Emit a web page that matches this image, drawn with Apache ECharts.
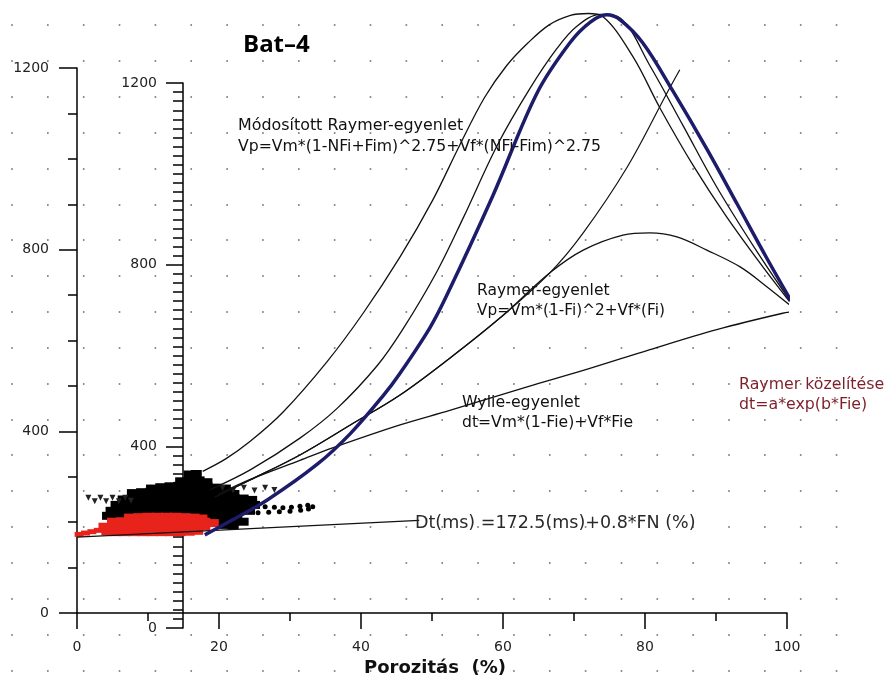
<!DOCTYPE html>
<html><head><meta charset="utf-8">
<script src="https://cdn.jsdelivr.net/npm/echarts@6/dist/echarts.min.js"></script>
<style>html,body{margin:0;padding:0;background:#fff}#c{width:884px;height:682px}</style>
</head><body><div id="c"></div>
<script>
// ---- data (x = porosity %, y = value on the outer axis) ----
const modRaymerA = [[17.7,312],[21.0,340],[24.4,378],[29.0,442],[35.2,553],[40.3,660],[45.5,784],[50.1,909],[53.9,1030],[57.4,1135],[60.5,1205],[63.5,1255],[66.5,1295],[69.5,1316],[72.0,1320],[74.0,1314],[78.3,1225],[82.1,1112],[86.8,985],[91.5,872],[96.6,762],[101.4,665]];
const modRaymerB = [[18.7,271],[24.4,315],[31.4,385],[36.6,450],[42.3,545],[45.9,625],[50.7,752],[54.4,870],[59.2,1030],[63.8,1155],[67.6,1243],[70.4,1292],[73.7,1318],[76.5,1310],[80.7,1205],[85.4,1072],[90.1,938],[95.8,795],[101.4,665]];
const modRaymerBlue = [[18.0,172],[21.1,198],[26.8,249],[33.8,327],[38.5,395],[43.1,478],[45.5,528],[49.7,628],[52.1,700],[58.6,920],[64.8,1145],[69.4,1255],[72.3,1301],[74.6,1317],[76.5,1306],[79.7,1255],[83.9,1150],[88.7,1022],[93.0,900],[97.2,780],[101.4,665]];
const raymerHump = [[19.4,255],[24.4,293],[31.4,348],[38.5,414],[45.5,480],[52.5,561],[59.6,650],[66.6,749],[71.3,799],[76.9,832],[80.7,837],[84.5,828],[88.7,799],[93.4,762],[97.2,718],[101.4,665]];
const raymerExp = [[19.4,255],[24.4,293],[31.4,348],[38.5,414],[45.5,480],[52.5,561],[59.6,650],[66.6,749],[71.3,837],[77.5,982],[83.1,1145],[84.9,1196]];
const wylie = [[20,262],[24.4,294],[31.4,336],[36.1,364],[45.5,414],[52.5,446],[63.4,498],[71.3,534],[80.7,580],[90.1,624],[99.4,660],[101.4,665]];
const dtLine = [[0,167],[48.2,204]];
const triangles = [[1.6,254],[2.5,246],[3.3,254],[4.1,246],[5.0,254],[5.9,246],[6.8,254],[7.6,247],[20.5,275],[22,270],[23.5,276],[25,270],[26.5,276],[27.8,271]];
const blackCluster = [
 [15.8,305],[16.8,306],
 [14.6,290],[15.9,293],[17.2,292],[18.3,288],
 [10.5,274],[11.8,277],[13.1,279],[14.4,280],[15.7,281],[17,281],[18.3,279],[19.6,276],[20.9,274],
 [7.8,264],[9.1,266],[10.4,267],[11.7,267],[13,267],[14.3,267],[15.6,267],[16.9,267],[18.2,267],[19.5,267],[20.8,265],[22.1,262],
 [6.5,250],[7.8,253],[9.1,253],[10.4,253],[11.7,253],[13,253],[14.3,253],[15.6,253],[16.9,253],[18.2,253],[19.5,253],[20.8,253],[22.1,253],[23.4,252],[24.6,249],
 [5.5,238],[6.8,240],[8.1,240],[9.4,240],[10.7,240],[12,240],[13.3,240],[14.6,240],[15.9,240],[17.2,240],[18.5,240],[19.8,240],[21.1,240],[22.4,240],[23.7,240],[25,238],
 [4.8,225],[6.1,227],[7.4,227],[8.7,227],[10,227],[11.3,227],[12.6,227],[13.9,227],[15.2,227],[16.5,227],[17.8,227],[19.1,227],[20.4,227],[21.7,227],[23,226],[24.3,225],
 [4.3,214],[5.6,215],[6.9,215],[8.2,215],[9.5,215],[10.8,215],[12.1,215],[13.4,215],[14.7,215],[16,215],[17.3,215],[18.6,215],[19.9,214],[21.2,213],[22.5,212],
 [19.6,205],[20.9,203],[22.2,202],[23.4,201],
 [20.6,194],[22,193]
];
const blackArm = [[26.5,234],[27.8,233],[29,232],[30.2,233],[31.4,235],[32.5,237],[33.2,234],[32.6,229],[31.5,226],[30,224],[28.5,223],[27,222],[25.5,221]];
const redTip = [[0.3,173],[1.2,176],[2.1,179],[3.0,182]];
const redCluster = [
 [4.2,180],[5.4,178],[6.7,178],[8,178],[9.3,178],[10.6,178],[11.9,178],[13.2,178],[14.5,178],[15.8,179],[17,181],
 [3.8,190],[5,190],[6.3,190],[7.6,190],[8.9,190],[10.2,190],[11.5,190],[12.8,190],[14.1,190],[15.4,190],[16.7,190],[18,191],
 [5,201],[6.3,202],[7.6,202],[8.9,202],[10.2,202],[11.5,202],[12.8,202],[14.1,202],[15.4,202],[16.7,202],[18,201],[19.2,198],
 [7.4,210],[8.7,211],[10,212],[11.3,212],[12.6,212],[13.9,212],[15.2,211],[16.5,210],[17.6,208]
];
const texts = [
 {t:'Módosított Raymer-egyenlet', x:238, y:126, s:15.9, c:'#111'},
 {t:'Vp=Vm*(1-NFi+Fim)^2.75+Vf*(NFi-Fim)^2.75', x:238, y:147, s:15.7, c:'#111'},
 {t:'Raymer-egyenlet', x:477, y:291, s:15.5, c:'#111'},
 {t:'Vp=Vm*(1-Fi)^2+Vf*(Fi)', x:477, y:311, s:15.3, c:'#111'},
 {t:'Wylie-egyenlet', x:462, y:403, s:15.8, c:'#111'},
 {t:'dt=Vm*(1-Fie)+Vf*Fie', x:462, y:423, s:15.6, c:'#111'},
 {t:'Raymer közelítése', x:739, y:385, s:15.8, c:'#7d1f2a'},
 {t:'dt=a*exp(b*Fie)', x:739, y:405, s:15.8, c:'#7d1f2a'},
 {t:'Dt(ms) =172.5(ms)+0.8*FN (%)', x:415, y:523, s:17.5, c:'#2a2a2a'}
];

const FONT = 'DejaVu Sans';
const axisColor = '#000';
const plain = v => String(v);
const chart = echarts.init(document.getElementById('c'), null, {renderer:'canvas'});
const lineS = (name, data, color, width, z) => ({
  type:'line', name, data, xAxisIndex:0, yAxisIndex:0, showSymbol:false, smooth:0.35, clip:false,
  lineStyle:{color, width}, z: z||3, silent:true
});
const scat = (data, symbol, size, color, extra) => Object.assign({
  type:'scatter', data, xAxisIndex:0, yAxisIndex:0, symbol, symbolSize:size, itemStyle:{color, opacity:1}, z:2, silent:true
}, extra||{});
chart.setOption({
  animation:false,
  backgroundColor:'#fff',
  title:{text:'Bat–4', left:238, top:28, textStyle:{fontFamily:'Open Sans', fontWeight:'bold', fontSize:24, color:'#000'}},
  grid:[
    {left:77, top:68, width:710, height:545, outerBoundsMode:'none'},
    {left:183, top:83, width:1, height:545, outerBoundsMode:'none'},
    {left:11.2, top:25, width:860.4, height:645.3, outerBoundsMode:'none'}
  ],
  xAxis:[
    {gridIndex:0, type:'value', min:0, max:100, interval:20,
     axisLine:{show:true, lineStyle:{color:axisColor, width:1.5}},
     axisTick:{show:true, length:16, lineStyle:{color:axisColor, width:1.5}},
     minorTick:{show:true, splitNumber:2, length:8, lineStyle:{color:axisColor, width:1.5}},
     splitLine:{show:false},
     axisLabel:{margin:27, fontFamily:FONT, fontSize:14, color:'#222', formatter:plain},
     name:'Porozitás  (%)', nameLocation:'middle', nameGap:46,
     nameTextStyle:{fontFamily:FONT, fontWeight:'bold', fontSize:18, color:'#111', padding:[0,0,0,6]}},
    {gridIndex:1, type:'value', show:false, min:0, max:1},
    {gridIndex:2, type:'value', show:false, min:0, max:24}
  ],
  yAxis:[
    {gridIndex:0, type:'value', min:0, max:1200, interval:400,
     axisLine:{show:true, lineStyle:{color:axisColor, width:1.5}},
     axisTick:{show:true, length:18, lineStyle:{color:axisColor, width:1.5}},
     minorTick:{show:true, splitNumber:4, length:9, lineStyle:{color:axisColor, width:1.5}},
     splitLine:{show:false},
     axisLabel:{margin:28, fontFamily:FONT, fontSize:14, color:'#222', formatter:plain}},
    {gridIndex:1, type:'value', min:0, max:1200, interval:400,
     axisLine:{show:true, lineStyle:{color:axisColor, width:1.5}},
     axisTick:{show:true, length:17, lineStyle:{color:axisColor, width:1.5}},
     minorTick:{show:true, splitNumber:20, length:10, lineStyle:{color:axisColor, width:1.5}},
     splitLine:{show:false},
     axisLabel:{margin:26, fontFamily:FONT, fontSize:14, color:'#222', formatter:plain}},
    {gridIndex:2, type:'value', min:0, max:18, interval:1,
     axisLine:{show:false}, axisTick:{show:false}, axisLabel:{show:false},
     splitLine:{show:true, lineStyle:{color:'#8c8c8c', width:1.8, type:[1.6,34.25]}}}
  ],
  series:[
    scat(blackCluster, 'rect', [11,8], '#000'),
    scat(blackArm, 'circle', 5, '#000'),
    scat(triangles, 'triangle', 6, '#222', {symbolRotate:180}),
    scat(redTip, 'rect', [9,5], '#e8231b'),
    scat(redCluster, 'rect', [11,8], '#e8231b'),
    lineS('dt', dtLine, '#111', 1.3),
    lineS('wylie', wylie, '#111', 1.3),
    lineS('raymerExp', raymerExp, '#111', 1.2),
    lineS('raymerHump', raymerHump, '#111', 1.3),
    lineS('modA', modRaymerA, '#111', 1.3),
    lineS('modB', modRaymerB, '#111', 1.3),
    lineS('modBlue', modRaymerBlue, '#1c1c6b', 3.5, 4)
  ],
  graphic:{elements: texts.map(a => ({
    type:'text', x:a.x, y:a.y, silent:true, z:10,
    style:{text:a.t, font:a.s + 'px "' + FONT + '"', fill:a.c, verticalAlign:'middle', textVerticalAlign:'middle'}
  }))}
});
</script></body></html>
